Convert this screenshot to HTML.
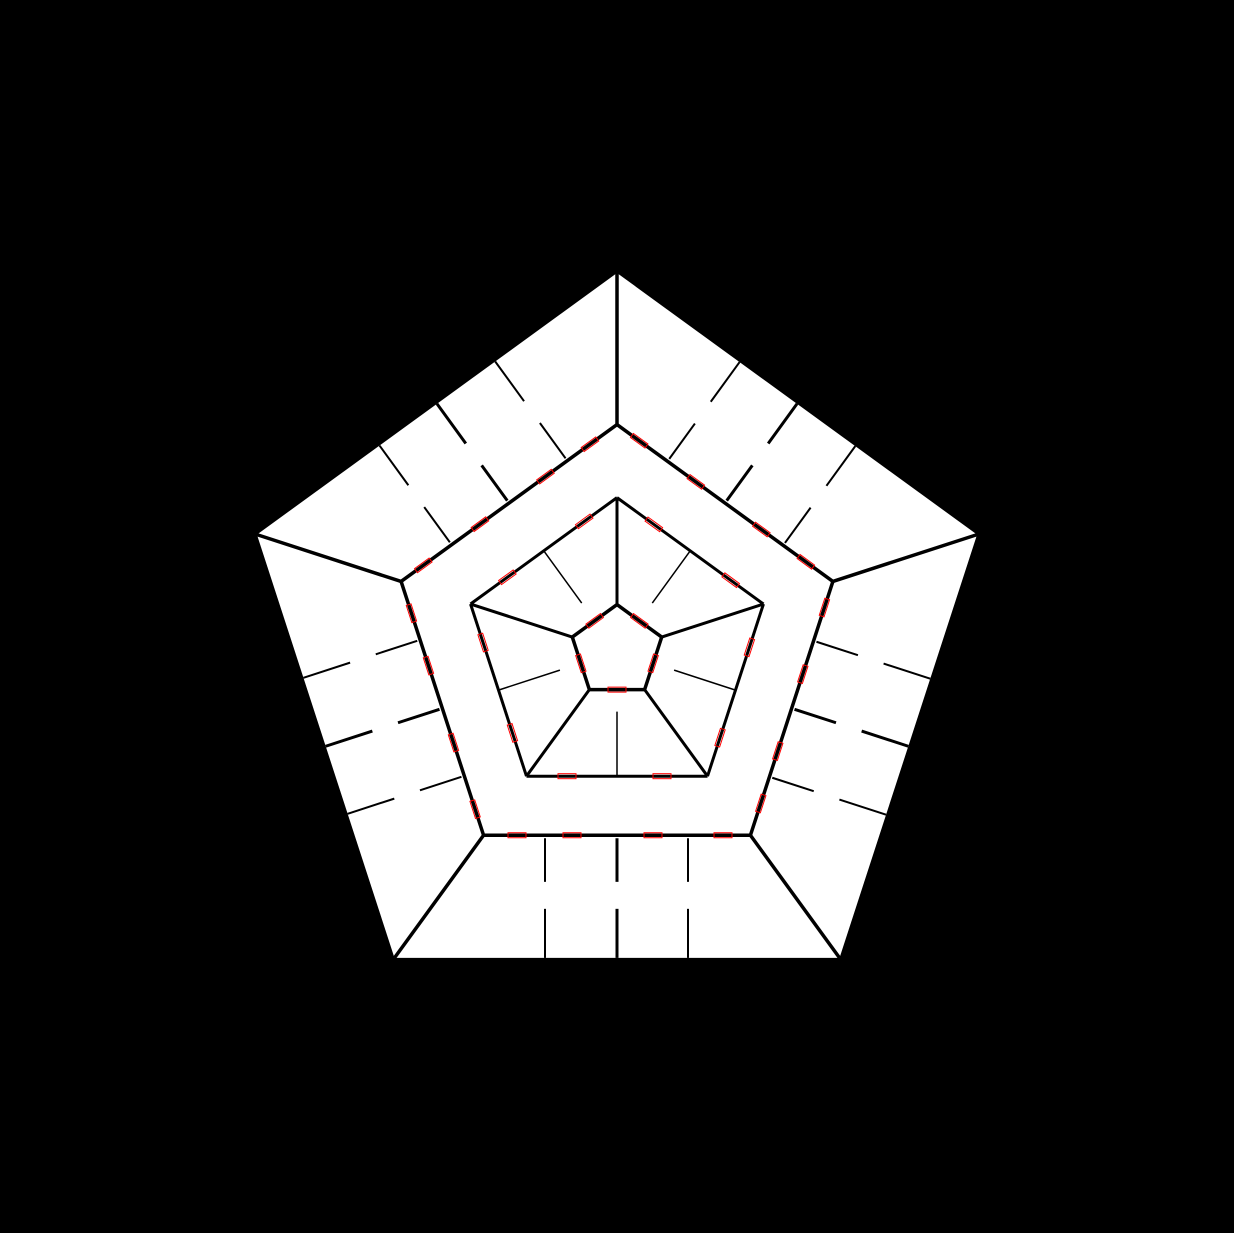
<!DOCTYPE html>
<html><head><meta charset="utf-8"><style>
html,body{margin:0;padding:0;background:#000;}
svg{display:block;}
</style></head><body>
<svg id="chart" width="1234" height="1233" viewBox="0 0 1234 1233" xmlns="http://www.w3.org/2000/svg">
<rect x="0" y="0" width="1234" height="1233" fill="#000"/>
</svg>
<script>
const center = [617, 651.6];
const ringRadii = [378.6, 227, 154, 47];           // outer, middle, inner, innermost pentagon radii
const outerCrossOffsets = [-72, 0, 71];             // perpendicular walls in outer sector
const innerCrossOffsets = [0];                      // perpendicular walls in inner sector
const NS = 'http://www.w3.org/2000/svg';
const svg = document.getElementById('chart');
const cx = center[0], cy = center[1];
function vert(r, k) {
  const a = (Math.PI / 2) + (k * 2 * Math.PI / 5) + Math.PI / 5;
  return [cx + r * Math.cos(a), cy + r * Math.sin(a)];
}
const outerPts = [];
for (let k = 0; k < 5; k++) outerPts.push(vert(ringRadii[0], k).join(','));
const poly = document.createElementNS(NS, 'polygon');
poly.setAttribute('points', outerPts.join(' '));
poly.setAttribute('fill', '#fff');


svg.appendChild(poly);

function line(g, x1, y1, x2, y2, w, name, color) {
  const l = document.createElementNS(NS, 'line');
  l.setAttribute('x1', x1); l.setAttribute('y1', y1);
  l.setAttribute('x2', x2); l.setAttribute('y2', y2);
  l.setAttribute('stroke', color || '#000');
  l.setAttribute('stroke-width', w);
  
  
  g.appendChild(l);
}
function marker(g, x, y, rot) {
  const r = document.createElementNS(NS, 'rect');
  r.setAttribute('x', x - 9); r.setAttribute('y', y - 2.5);
  r.setAttribute('width', 18); r.setAttribute('height', 5);
  r.setAttribute('fill', 'none'); r.setAttribute('stroke', '#f00'); r.setAttribute('stroke-width', 1);
  r.setAttribute('transform', 'rotate(' + rot + ' ' + x + ' ' + y + ')');
  
  
  g.appendChild(r);
}
const cos36 = Math.cos(Math.PI / 5), sin36 = Math.sin(Math.PI / 5);
const yOut = cy + ringRadii[0] * cos36, hOut = ringRadii[0] * sin36;
const yMid = cy + ringRadii[1] * cos36, hMid = ringRadii[1] * sin36;
const yIn = cy + ringRadii[2] * cos36, hIn = ringRadii[2] * sin36;
const yCore = cy + ringRadii[3] * cos36, hCore = ringRadii[3] * sin36;
for (let s = 0; s < 5; s++) {
  const g = document.createElementNS(NS, 'g');
  g.setAttribute('transform', 'rotate(' + (s * 72) + ' ' + cx + ' ' + cy + ')');
  
  
  svg.appendChild(g);
  line(g, cx - hOut, yOut, cx - hMid, yMid, 3.5, 'outer-radial-wall');
  line(g, cx - hMid, yMid, cx + hMid, yMid, 3.5, 'middle-ring-edge');
  outerCrossOffsets.forEach(o => {
    const x = cx + o;
    const gap1 = yMid + (yOut - yMid) * 0.38, gap2 = yMid + (yOut - yMid) * 0.6;
    line(g, x, yMid + 3, x, gap1, o === 0 ? 3 : 2, 'outer-cross-wall');
    line(g, x, gap2, x, yOut, o === 0 ? 3 : 2, 'outer-cross-wall');
  });
  line(g, cx - hIn, yIn, cx + hIn, yIn, 3, 'inner-ring-edge');
  line(g, cx - hIn, yIn, cx - hCore, yCore, 3, 'inner-radial-wall');
  line(g, cx - hCore, yCore, cx + hCore, yCore, 3.5, 'core-edge');
  innerCrossOffsets.forEach(o => {
    line(g, cx + o, yCore + 22, cx + o, yIn, 1.5, 'inner-cross-wall');
  });
  marker(g, cx - 100, yMid, 0); marker(g, cx - 45, yMid, 0);
  marker(g, cx + 36, yMid, 0); marker(g, cx + 106, yMid, 0);
  marker(g, cx - 50, yIn, 0); marker(g, cx + 45, yIn, 0);
  marker(g, cx, yCore, 0);
}
</script>
</body></html>
